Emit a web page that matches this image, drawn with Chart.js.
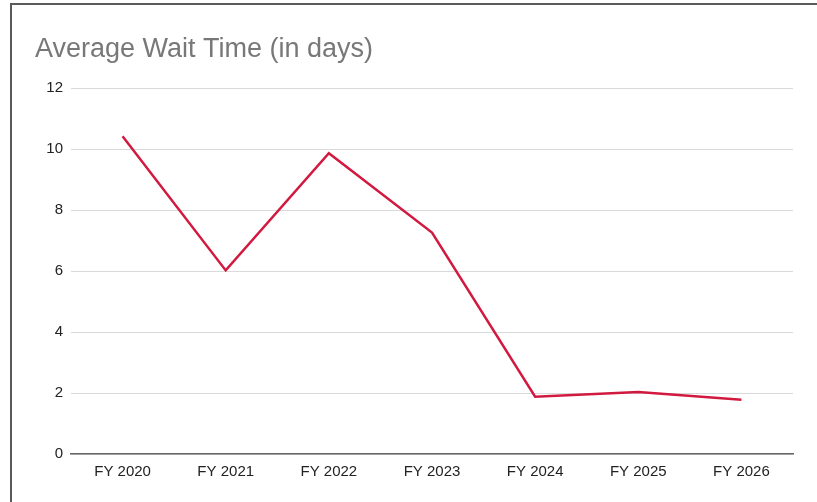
<!DOCTYPE html>
<html lang="en">
<head>
	<meta charset="UTF-8">
	<title>Average Wait Time</title>
	<script src="https://cdn.jsdelivr.net/npm/chart.js@4.4.0/dist/chart.umd.min.js"></script>
	<style>
		html, body { margin: 0; padding: 0; background: #fff; }
		#wrap { position: relative; width: 817px; height: 502px; }
		#frame {
			position: absolute; left: 10px; top: 3px; right: 0; bottom: 0;
			border-left: 2px solid #5a5a5a; border-top: 2px solid #5a5a5a;
			pointer-events: none;
		}
	</style>
</head>
<body>
	<div id="wrap">
		<canvas id="myChart" width="817" height="502"></canvas>
		<div id="frame"></div>
	</div>

	<script>
		const labels = ['FY 2020', 'FY 2021', 'FY 2022', 'FY 2023', 'FY 2024', 'FY 2025', 'FY 2026']
		const waitDays = [10.42, 6.02, 9.86, 7.26, 1.88, 2.03, 1.78]
		const yTicks = [0, 2, 4, 6, 8, 10, 12]

		const font = "'Liberation Sans', Arial, sans-serif"

		var ctx = document.getElementById('myChart').getContext('2d')

		var chart = new Chart(ctx, {
			type: 'line',
			data: {
				labels: labels,
				datasets: [{
					label: 'Average Wait Time (in days)',
					data: waitDays,
					borderColor: '#d2193f',
					borderWidth: 2.5,
					pointRadius: 0,
					tension: 0,
					fill: false
				}]
			},
			options: {
				responsive: false,
				animation: false,
				layout: {
					padding: { left: 35, right: 24, top: 0, bottom: 12 }
				},
				scales: {
					x: {
						offset: true,
						grid: { display: false, drawTicks: false },
						border: { display: true, color: '#666', width: 1.5 },
						ticks: { color: '#222', padding: 9, font: { family: font, size: 15 } }
					},
					y: {
						min: 0,
						max: 12,
						afterBuildTicks: function(scale) {
							scale.ticks = yTicks.map(v => ({ value: v }))
						},
						afterFit: function(scale) { scale.width = 36 },
						grid: { color: '#dadada', lineWidth: 1, drawTicks: false },
						border: { display: false },
						ticks: { color: '#222', padding: 8, font: { family: font, size: 15 } }
					}
				},
				plugins: {
					legend: { display: false },
					tooltip: { enabled: false },
					title: {
						display: true,
						text: 'Average Wait Time (in days)',
						align: 'start',
						color: '#787878',
						font: { family: font, size: 27, weight: 'normal' },
						padding: { top: 33, bottom: 22.6 }
					}
				}
			}
		})
	</script>
</body>
</html>
